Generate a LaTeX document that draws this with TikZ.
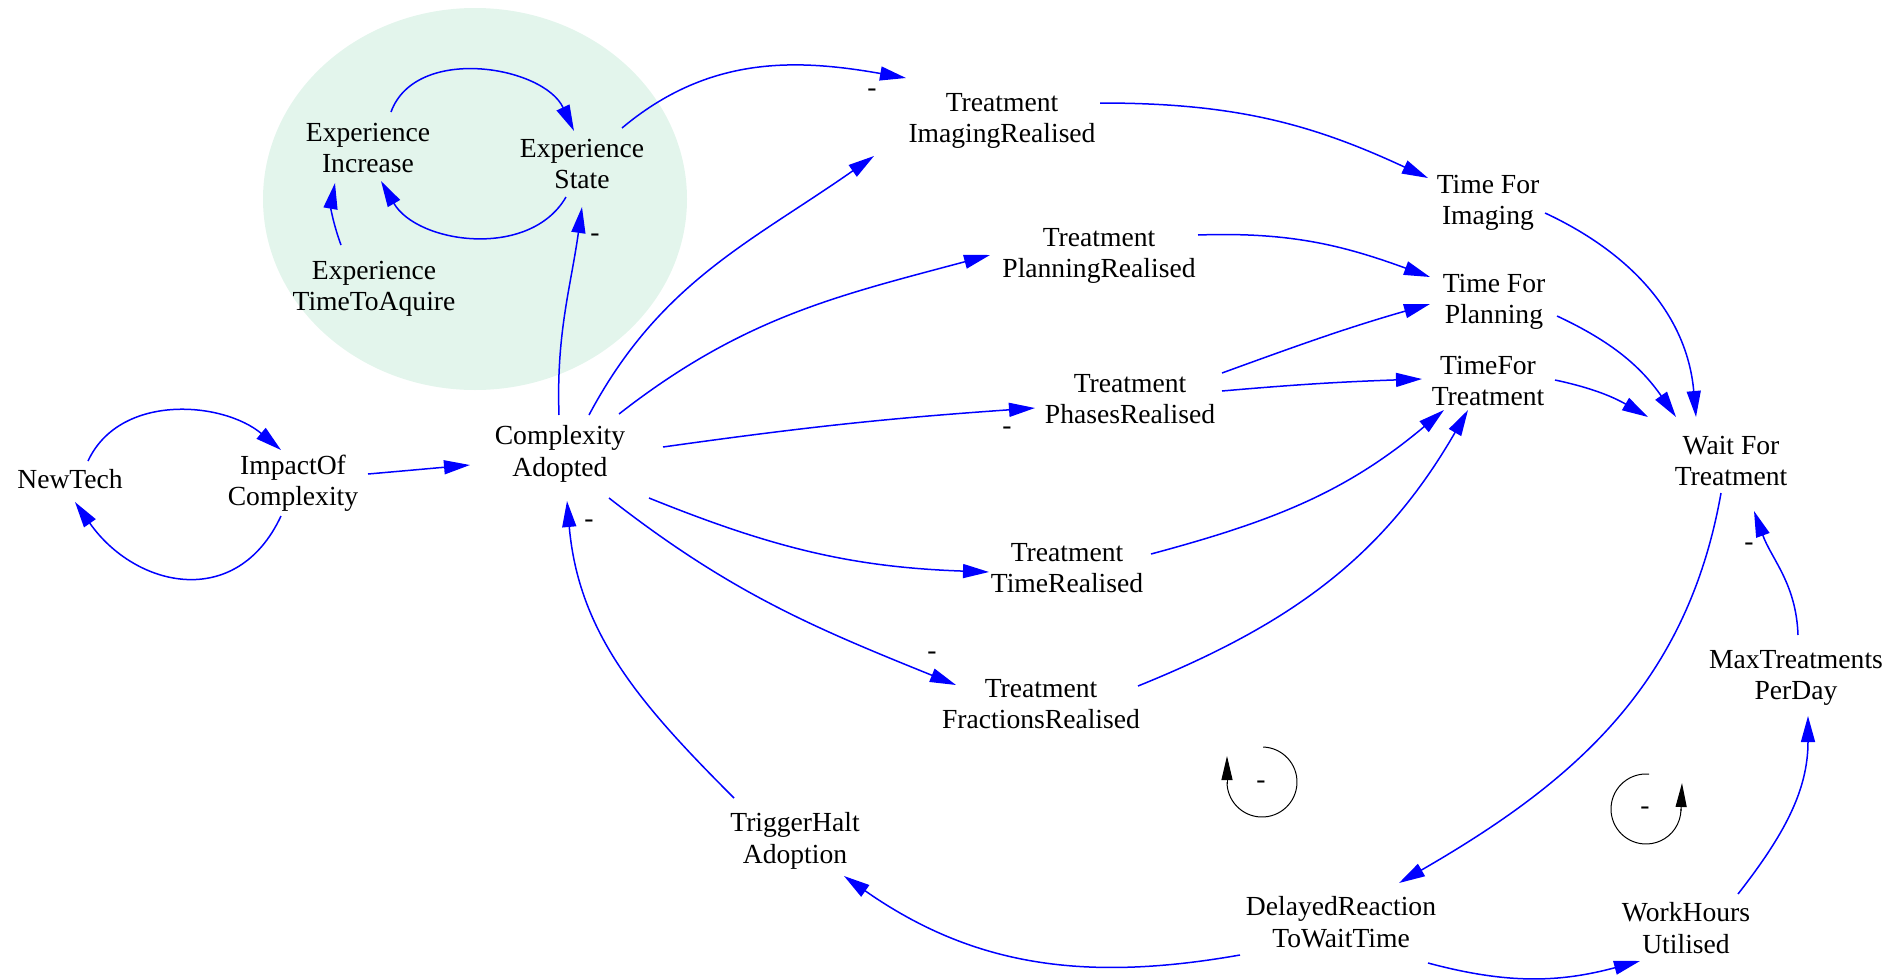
\documentclass[tikz,border=0pt]{standalone}
\usepackage{fontspec}
\setmainfont{Liberation Serif}
\usetikzlibrary{arrows.meta}
\definecolor{linkblue}{RGB}{0,0,255}
\definecolor{groupgreen}{RGB}{227,245,236}
\tikzset{
  var/.style={align=center, font=\fontsize{13.8}{15.7}\selectfont, inner xsep=4pt, inner ysep=4pt, text depth=0pt},
  link/.style={draw=linkblue, line width=0.75pt, -{Triangle[length=13pt,width=7pt]}},
  polarity/.style={font=\fontsize{13.8}{15.7}\selectfont, inner sep=0pt},
  loopline/.style={draw=black, line width=0.5pt},
  looptip/.style={draw=black, line width=0.5pt, -{Triangle[length=12pt,width=5.5pt]}}
}
\begin{document}
\begin{tikzpicture}[x=0.5pt,y=0.5pt]
\useasboundingbox (0,0) rectangle (1891,-980);

% shaded group around the experience loop
\fill[groupgreen] (475,-199) ellipse [x radius=212, y radius=191];

% variables
\node[var] (expinc)   at (368,-148)  {Experience\\Increase};
\node[var] (expstate) at (582,-164)  {Experience\\State};
\node[var] (exptime)  at (374,-286)  {Experience\\TimeToAquire};
\node[var] (tir)      at (1002,-118) {Treatment\\ImagingRealised};
\node[var] (tpr)      at (1099,-253) {Treatment\\PlanningRealised};
\node[var] (tfi)      at (1488,-200) {Time For\\Imaging};
\node[var] (tfp)      at (1494,-299) {Time For\\Planning};
\node[var] (tft)      at (1488,-381) {TimeFor\\Treatment};
\node[var] (tphr)     at (1130,-399) {Treatment\\PhasesRealised};
\node[var] (ca)       at (560,-451)  {Complexity\\Adopted};
\node[var] (newtech)  at (70,-479)   {NewTech};
\node[var] (ioc)      at (293,-480)  {ImpactOf\\Complexity};
\node[var] (wft)      at (1731,-461) {Wait For\\Treatment};
\node[var] (ttr)      at (1067,-568) {Treatment\\TimeRealised};
\node[var] (tfr)      at (1041,-704) {Treatment\\FractionsRealised};
\node[var] (mtpd)     at (1796,-675) {MaxTreatments\\PerDay};
\node[var] (tha)      at (795,-838)  {TriggerHalt\\Adoption};
\node[var] (drt)      at (1341,-922) {DelayedReaction\\ToWaitTime};
\node[var] (whu)      at (1686,-928) {WorkHours\\Utilised};

% causal links
\draw[link] ([shift={(23,36)}]expinc.center)    to[out=70,in=115]   ([shift={(-8,33)}]expstate.center);
\draw[link] ([shift={(-16,-33)}]expstate.center) to[out=240,in=-60] ([shift={(13,-33)}]expinc.center);
\draw[link] ([shift={(-33,41)}]exptime.center)  to[out=110,in=260]  ([shift={(-33,-35)}]expinc.center);
\draw[link] ([shift={(-1,36)}]ca.center)        to[out=92,in=262]   ([shift={(0,-43)}]expstate.center);
\draw[link] ([shift={(40,36)}]expstate.center)  to[out=40,in=170]   ([shift={(-96,40)}]tir.center);
\draw[link] ([shift={(29,36)}]ca.center)        to[out=62,in=215]   ([shift={(-128,-38)}]tir.center);
\draw[link] ([shift={(59,37)}]ca.center)        to[out=38,in=195]   ([shift={(-109,-2)}]tpr.center);
\draw[link] ([shift={(103,4)}]ca.center)        to[out=8,in=184]    ([shift={(-95,-9)}]tphr.center);
\draw[link] ([shift={(89,-47)}]ca.center)       to[out=-22,in=178]  ([shift={(-78,-4)}]ttr.center);
\draw[link] ([shift={(49,-47)}]ca.center)       to[out=-38,in=158]  ([shift={(-85,19)}]tfr.center);
\draw[link] ([shift={(-61,40)}]tha.center)      to[out=135,in=-85]  ([shift={(7,-50)}]ca.center);
\draw[link] ([shift={(75,6)}]ioc.center)        to[out=5,in=185]    ([shift={(-90,-14)}]ca.center);
\draw[link] ([shift={(18,18)}]newtech.center)   to[out=65,in=140]   ([shift={(-12,30)}]ioc.center);
\draw[link] ([shift={(-12,-36)}]ioc.center)     to[out=-115,in=-55,looseness=1.3] ([shift={(5,-23)}]newtech.center);
\draw[link] ([shift={(98,15)}]tir.center)       to[out=0,in=155]    ([shift={(-60,22)}]tfi.center);
\draw[link] ([shift={(99,18)}]tpr.center)       to[out=2,in=160]    ([shift={(-64,22)}]tfp.center);
\draw[link] ([shift={(92,26)}]tphr.center)      to[out=20,in=196]   ([shift={(-64,-5)}]tfp.center);
\draw[link] ([shift={(92,8)}]tphr.center)       to[out=5,in=182]    ([shift={(-66,2)}]tft.center);
\draw[link] ([shift={(84,14)}]ttr.center)       to[out=15,in=220]   ([shift={(-44,-29)}]tft.center);
\draw[link] ([shift={(97,18)}]tfr.center)       to[out=22,in=240]   ([shift={(-20,-29)}]tft.center);
\draw[link] ([shift={(57,-13)}]tfi.center)      to[out=-25,in=95]   ([shift={(-35,44)}]wft.center);
\draw[link] ([shift={(63,-17)}]tfp.center)      to[out=-25,in=125]  ([shift={(-55,44)}]wft.center);
\draw[link] ([shift={(67,1)}]tft.center)        to[out=-12,in=150]  ([shift={(-83,44)}]wft.center);
\draw[link] ([shift={(-10,-32)}]wft.center)     to[out=-100,in=30]  ([shift={(58,39)}]drt.center);
\draw[link] ([shift={(2,40)}]mtpd.center)       to[out=92,in=-70]   ([shift={(23,-50)}]wft.center);
\draw[link] ([shift={(52,34)}]whu.center)       to[out=52,in=-90]   ([shift={(12,-41)}]mtpd.center);
\draw[link] ([shift={(87,-41)}]drt.center)      to[out=-15,in=195]  ([shift={(-46,-33)}]whu.center);
\draw[link] ([shift={(-101,-33)}]drt.center)    to[out=190,in=-35]  ([shift={(49,-38)}]tha.center);

% link polarities
\node[polarity] (p1) at (595,-238)  {-};
\node[polarity] (p2) at (872,-93)   {-};
\node[polarity] (p3) at (1007,-431) {-};
\node[polarity] (p4) at (932,-656)  {-};
\node[polarity] (p5) at (589,-524)  {-};
\node[polarity] (p6) at (1749,-547) {-};

% loop markers
\draw[loopline] (1262,-782) ++(88:35) arc[start angle=88, end angle=-180, radius=35];
\draw[looptip] (1227,-784) -- (1227,-756);
\node[polarity] (loopa) at (1261,-785) {-};

\draw[loopline] (1646,-809) ++(85:35) arc[start angle=85, end angle=360, radius=35];
\draw[looptip] (1681,-811) -- (1682,-783);
\node[polarity] (loopb) at (1645,-811) {-};
\end{tikzpicture}
\end{document}
